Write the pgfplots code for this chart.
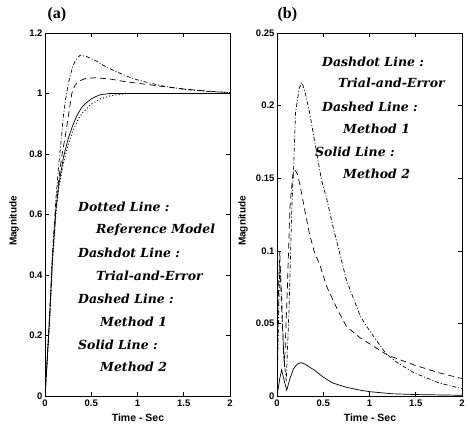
\documentclass[border=0pt]{standalone}
\usepackage{pgfplots}
\pgfplotsset{compat=1.18}
\usepackage{fontspec}
\setmainfont{Liberation Serif}
\setsansfont{Liberation Sans}
\newfontfamily\annotfont{DejaVu Serif}

\pgfplotsset{
  panel/.style={
    scale only axis, width=185pt, height=363pt, anchor=south west,
    xmin=0, xmax=2,
    xtick={0,0.5,1,1.5,2}, xticklabels={0,0.5,1,1.5,2},
    tick align=inside, xtick pos=both, ytick pos=both,
    xticklabel pos=lower, yticklabel pos=left,
    major tick length=4pt,
    axis line style={line width=0.9pt},
    every tick/.style={line width=0.6pt, black},
    tick label style={font=\sffamily\bfseries\fontsize{9.5}{9.5}\selectfont},
    yticklabel style={xshift=1pt},
    /pgf/number format/assume math mode=true,
    clip=true,
  },
  dashdotL/.style={black, line width=0.7pt, dash pattern=on 4pt off 2pt on 1pt off 2pt},
  dashedL/.style={black, line width=0.7pt, dash pattern=on 6pt off 4pt},
  dottedL/.style={black, line width=0.9pt, dash pattern=on 1pt off 2.2pt},
  solidL/.style={black, line width=0.7pt},
}

\newcommand{\annot}{\annotfont\bfseries\itshape\fontsize{12.5}{12.5}\selectfont}

\begin{document}
\begin{tikzpicture}[x=1pt,y=1pt]
\useasboundingbox (0,0) rectangle (470,428);

% ---------------- Panel (a)
\begin{axis}[panel, at={(45pt,32pt)},
  ymin=0, ymax=1.2,
  ytick={0,0.2,0.4,0.6,0.8,1,1.2}, yticklabels={0,0.2,0.4,0.6,0.8,1,1.2}]
% Reference model (dotted)
\addplot[dottedL] coordinates {
(0,0) (0.02,0.1) (0.05,0.25) (0.08,0.44) (0.12,0.61) (0.15,0.69) (0.2,0.77)
(0.25,0.83) (0.3,0.875) (0.35,0.91) (0.4,0.935) (0.5,0.965) (0.6,0.982)
(0.7,0.992) (0.8,0.997) (0.9,1.0) (1.2,1.0) (1.6,1.0) (2,1.0)};
% Method 2 (solid)
\addplot[solidL] coordinates {
(0,0) (0.02,0.1) (0.05,0.26) (0.08,0.45) (0.12,0.62) (0.15,0.7) (0.2,0.79)
(0.25,0.85) (0.3,0.895) (0.35,0.93) (0.4,0.955) (0.45,0.97) (0.5,0.982)
(0.55,0.99) (0.6,0.996) (0.7,1.0) (1,1.0) (1.5,1.0) (2,1.0)};
% Method 1 (dashed)
\addplot[dashedL] coordinates {
(0,0) (0.02,0.1) (0.05,0.26) (0.08,0.45) (0.12,0.64) (0.15,0.72) (0.18,0.79)
(0.22,0.86) (0.26,0.94) (0.29,1.0) (0.32,1.025) (0.36,1.04) (0.44,1.05)
(0.55,1.052) (0.7,1.048) (0.85,1.04) (1.0,1.034) (1.25,1.024) (1.5,1.015)
(1.75,1.008) (2,1.003)};
% Trial-and-Error (dashdot)
\addplot[dashdotL] coordinates {
(0,0) (0.02,0.1) (0.05,0.27) (0.08,0.47) (0.12,0.66) (0.15,0.77) (0.17,0.83)
(0.2,0.93) (0.22,0.975) (0.25,1.03) (0.27,1.055) (0.3,1.09) (0.33,1.11)
(0.38,1.127) (0.45,1.122) (0.55,1.108) (0.65,1.09) (0.75,1.075) (0.9,1.055)
(1.0,1.045) (1.25,1.026) (1.5,1.014) (1.75,1.007) (2,1.003)};
\end{axis}

% ---------------- Panel (b)
\begin{axis}[panel, at={(277pt,32pt)},
  ymin=0, ymax=0.25,
  ytick={0,0.05,0.1,0.15,0.2,0.25}, yticklabels={0,0.05,0.1,0.15,0.2,0.25}]
% Trial-and-Error (dashdot)
\addplot[dashdotL] coordinates {
(0,0) (0.015,0.05) (0.03,0.09) (0.05,0.07) (0.07,0.03) (0.1,0.01) (0.13,0.06)
(0.16,0.13) (0.18,0.158) (0.2,0.195) (0.24,0.212) (0.27,0.216) (0.3,0.21)
(0.35,0.196) (0.4,0.178) (0.48,0.149) (0.54,0.135) (0.6,0.118) (0.75,0.08)
(0.9,0.055) (1.0,0.045) (1.18,0.029) (1.3,0.023) (1.48,0.016) (1.75,0.009)
(2,0.005)};
% Method 1 (dashed)
\addplot[dashedL] coordinates {
(0,0) (0.015,0.07) (0.03,0.1) (0.05,0.06) (0.08,0.02) (0.11,0.07) (0.14,0.13)
(0.17,0.152) (0.19,0.156) (0.22,0.153) (0.25,0.145) (0.3,0.128) (0.35,0.112)
(0.4,0.1) (0.47,0.089) (0.54,0.075) (0.65,0.06) (0.75,0.048) (0.9,0.04)
(1.0,0.036) (1.2,0.028) (1.5,0.021) (1.75,0.016) (2,0.012)};
% Method 2 (solid)
\addplot[solidL] coordinates {
(0,0) (0.03,0.012) (0.05,0.018) (0.08,0.01) (0.105,0.004) (0.14,0.012)
(0.18,0.019) (0.22,0.022) (0.26,0.023) (0.3,0.022) (0.4,0.018) (0.5,0.013)
(0.6,0.009) (0.75,0.006) (0.9,0.004) (1.0,0.003) (1.25,0.0015) (1.5,0.001)
(2,0.0005)};
\end{axis}

% ---------------- Titles and labels
\node[anchor=west, font=\bfseries\fontsize{16}{16}\selectfont] at (44,413) {(a)};
\node[anchor=west, font=\bfseries\fontsize{16}{16}\selectfont] at (274,413) {(b)};
\node[rotate=90, font=\sffamily\bfseries\fontsize{10}{10}\selectfont] at (14,207) {Magnitude};
\node[rotate=90, font=\sffamily\bfseries\fontsize{10}{10}\selectfont] at (243,207) {Magnitude};
\node[font=\sffamily\bfseries\fontsize{10.5}{10.5}\selectfont] at (138,10) {Time - Sec};
\node[font=\sffamily\bfseries\fontsize{10.5}{10.5}\selectfont] at (370,10) {Time - Sec};

% annotations (a)
\node[anchor=west, font=\annot, inner sep=0] at (78,221) {Dotted Line :};
\node[anchor=west, font=\annot, inner sep=0] at (96,198) {Reference Model};
\node[anchor=west, font=\annot, inner sep=0] at (78,175) {Dashdot Line :};
\node[anchor=west, font=\annot, inner sep=0] at (96,152) {Trial-and-Error};
\node[anchor=west, font=\annot, inner sep=0] at (78,129) {Dashed Line :};
\node[anchor=west, font=\annot, inner sep=0] at (100,106) {Method 1};
\node[anchor=west, font=\annot, inner sep=0] at (78,83) {Solid Line :};
\node[anchor=west, font=\annot, inner sep=0] at (100,61) {Method 2};

% annotations (b)
\node[anchor=west, font=\annot, inner sep=0] at (322,366) {Dashdot Line :};
\node[anchor=west, font=\annot, inner sep=0] at (338,345) {Trial-and-Error};
\node[anchor=west, font=\annot, inner sep=0] at (322,321) {Dashed Line :};
\node[anchor=west, font=\annot, inner sep=0] at (343,299) {Method 1};
\node[anchor=west, font=\annot, inner sep=0] at (315,276) {Solid Line :};
\node[anchor=west, font=\annot, inner sep=0] at (343,254) {Method 2};
\end{tikzpicture}
\end{document}
